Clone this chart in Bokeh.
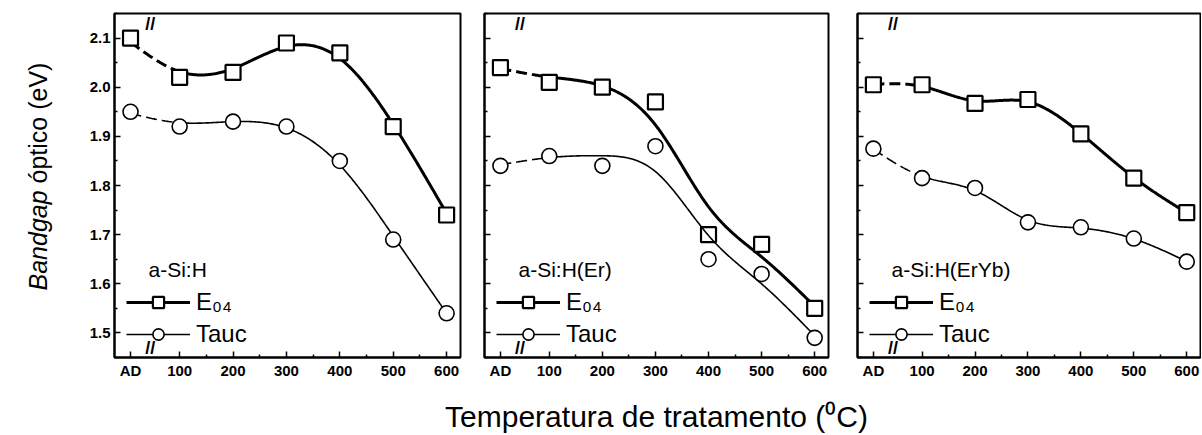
import numpy as np
from bokeh.plotting import figure
from bokeh.models import (FixedTicker, Label, Legend, LegendItem, Range1d,
                          PrintfTickFormatter, CustomJSTickFormatter)
from bokeh.layouts import row, column
from bokeh.embed import file_html
from bokeh.resources import INLINE
from bokeh.core.properties import value

# ---------------- data ----------------
temps = [8, 100, 200, 300, 400, 500, 600]          # "AD" (as deposited) drawn at x=8
x_tick_values = [8, 100, 200, 300, 400, 500, 600]
x_tick_labels = ["AD", "100", "200", "300", "400", "500", "600"]
y_tick_values = [1.5, 1.6, 1.7, 1.8, 1.9, 2.0, 2.1]
samples = ["a-Si:H", "a-Si:H(Er)", "a-Si:H(ErYb)"]
e04_asih = [2.10, 2.02, 2.03, 2.09, 2.07, 1.92, 1.74]
tauc_asih = [1.95, 1.92, 1.93, 1.92, 1.85, 1.69, 1.54]
e04_er = [2.04, 2.01, 2.00, 1.97, 1.70, 1.68, 1.55]
tauc_er = [1.84, 1.86, 1.84, 1.88, 1.65, 1.62, 1.49]
e04_eryb = [2.005, 2.005, 1.967, 1.975, 1.905, 1.815, 1.745]
tauc_eryb = [1.875, 1.815, 1.795, 1.725, 1.715, 1.692, 1.645]
series = [(e04_asih, tauc_asih), (e04_er, tauc_er), (e04_eryb, tauc_eryb)]
smoothing = [1.0e4, 1.5e4, 2.0e3]   # stiffness of the drawn guide curves

# ---------------- layout constants ----------------
X0, X1 = -22, 626
Y0, Y1 = 1.45, 2.15
FH = 344
TOP, BOTTOM = 13, 24
TOTAL_H = 434
FONT = "Liberation Sans"


def guide_curve(xs, ys, lam, step=2):
    """Smooth guide line through the measured points (penalised smoothing)."""
    grid = np.arange(xs[0], xs[-1] + step / 2, step, dtype=float)
    n = len(grid)
    w = np.zeros(n)
    yv = np.zeros(n)
    for x, y in zip(xs, ys):
        i = int(round((x - xs[0]) / step))
        w[i] = 1.0
        yv[i] = y
    D = np.diff(np.eye(n), 2, axis=0)
    z = np.linalg.solve(np.diag(w) + lam * D.T @ D, w * yv)
    return grid, z


def make_panel(idx, fw, border_left, border_right):
    e04, tauc = series[idx]
    p = figure(width=border_left + fw + border_right, height=TOP + FH + BOTTOM,
               x_range=Range1d(X0, X1), y_range=Range1d(Y0, Y1), title=None,
               output_backend="svg", toolbar_location=None,
               min_border_left=border_left, min_border_right=border_right,
               min_border_top=TOP, min_border_bottom=BOTTOM)
    p.xgrid.visible = False
    p.ygrid.visible = False
    p.outline_line_color = "black"
    p.outline_line_width = 2
    p.background_fill_color = "white"
    p.border_fill_color = "white"

    for ax in (p.xaxis[0], p.yaxis[0]):
        ax.axis_line_width = 2
        ax.major_tick_in = 6
        ax.major_tick_out = 0
        ax.minor_tick_in = 3
        ax.minor_tick_out = 0
        ax.major_tick_line_width = 1.5
        ax.minor_tick_line_width = 1.5
        ax.major_label_text_font = FONT
        ax.major_label_text_font_style = "bold"
        ax.major_label_text_font_size = "15px"
        ax.major_label_text_color = "black"
    p.xaxis.ticker = FixedTicker(ticks=x_tick_values,
                                 minor_ticks=[150, 250, 350, 450, 550])
    p.xaxis.major_label_overrides = {v: s for v, s in zip(x_tick_values, x_tick_labels)}
    p.xaxis.major_label_standoff = 4
    p.yaxis.ticker = FixedTicker(ticks=y_tick_values,
                                 minor_ticks=[1.45, 1.55, 1.65, 1.75, 1.85, 1.95, 2.05, 2.15])
    p.yaxis.major_label_standoff = 4
    if idx == 0:
        p.yaxis.formatter = PrintfTickFormatter(format="%.1f")
    else:
        p.yaxis.formatter = CustomJSTickFormatter(code="return ''")

    renderers = []
    for vals, lw, marker, msize, mlw in ((e04, 3, "square", 15, 2.2),
                                        (tauc, 1.6, "circle", 15, 1.6)):
        sx, sy = guide_curve(temps, vals, smoothing[idx])
        first = sx <= temps[1]
        rest = sx >= temps[1]
        p.line(sx[first], sy[first], line_color="black", line_width=lw, line_dash="11 5")
        solid = p.line(sx[rest], sy[rest], line_color="black", line_width=lw)
        sc = p.scatter(temps, vals, marker=marker, size=msize, fill_color="white",
                       line_color="black", line_width=mlw)
        renderers.append((solid, sc))

    legend = Legend(items=[LegendItem(label="E\u2080\u2084", renderers=list(renderers[0])),
                           LegendItem(label="Tauc", renderers=list(renderers[1]))],
                    location=(12, 9), padding=0, margin=0, spacing=4,
                    glyph_width=64, glyph_height=28, label_height=28, label_standoff=6,
                    label_text_font=FONT, label_text_font_size="24px",
                    label_text_color="black",
                    border_line_color=None, background_fill_alpha=0)
    p.add_layout(legend)

    sxp = fw / (X1 - X0)
    syp = FH / (Y1 - Y0)
    p.add_layout(Label(x=X0 + 34 / sxp, y=Y0 + 88 / syp, text=samples[idx],
                       text_font=FONT, text_font_size="21px", text_baseline="middle",
                       text_color="black"))
    # axis-break marks (drawn just inside the frame)
    p.add_layout(Label(x=45, y=Y1, text="//", text_align="center", text_baseline="top",
                       text_font=FONT, text_font_style="bold", text_font_size="18px",
                       text_color="black"))
    p.add_layout(Label(x=45, y=Y0, text="//", text_align="center", text_baseline="bottom",
                       text_font=FONT, text_font_style="bold", text_font_size="18px",
                       text_color="black"))
    return p


# panels: frames at x = 114-460, 484-828, 857-1200 (page pixels)
YLAB_W = 66
p1 = make_panel(0, 346, 114 - YLAB_W, 12)
p2 = make_panel(1, 344, 12, 12)
p3 = make_panel(2, 343, 17, 1)
panels_w = p1.width + p2.width + p3.width

# y-axis title
ylab = figure(width=YLAB_W, height=TOTAL_H, x_range=Range1d(0, YLAB_W),
              y_range=Range1d(0, TOTAL_H), output_backend="svg", toolbar_location=None,
              title=None, min_border=0, x_axis_location=None, y_axis_location=None,
              outline_line_color=None)
ylab.xgrid.visible = False
ylab.ygrid.visible = False
ylab.text(x=[37], y=[TOTAL_H - 290], text=["Bandgap"], angle=np.pi / 2,
          text_font=value(FONT), text_font_style="italic", text_font_size="25px",
          text_baseline="middle", text_color="black")
ylab.text(x=[37], y=[TOTAL_H - 290 + 107], text=["óptico (eV)"], angle=np.pi / 2,
          text_font=value(FONT), text_font_size="25px",
          text_baseline="middle", text_color="black")

# x-axis title
TITLE_H = TOTAL_H - (TOP + FH + BOTTOM)
xtitle = figure(width=panels_w, height=TITLE_H, x_range=Range1d(0, panels_w),
                y_range=Range1d(0, TITLE_H), output_backend="svg", toolbar_location=None,
                title=None, min_border=0, x_axis_location=None, y_axis_location=None,
                outline_line_color=None)
xtitle.xgrid.visible = False
xtitle.ygrid.visible = False
xtitle.text(x=[656 - YLAB_W], y=[TITLE_H - 35], text=["Temperatura de tratamento (\u2070C)"],
            text_font=value(FONT), text_font_size="30px", text_align="center",
            text_baseline="middle", text_color="black")

layout = row(ylab, column(row(p1, p2, p3), xtitle))
open("out.html", "w").write(file_html(layout, INLINE))
